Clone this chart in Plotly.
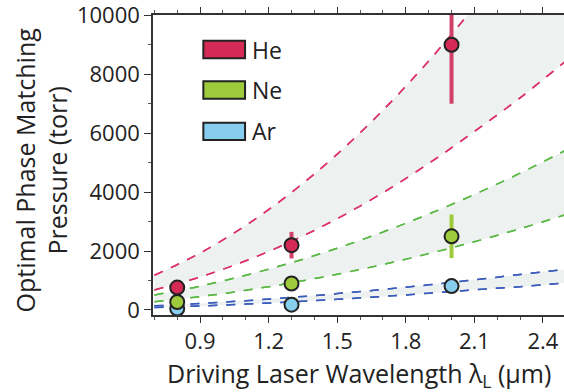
import plotly.graph_objects as go

# ---- data ----
gases = ["He", "Ne", "Ar"]
pt_x = [0.8, 1.3, 2.0]
he_y = [760, 2200, 9000]
he_err = [0, 450, 2000]
ne_y = [270, 900, 2500]
ne_err = [0, 0, 740]
ar_y = [50, 180, 810]

curve_x = [0.7, 0.9, 1.1, 1.3, 1.5, 1.7, 1.9, 2.1, 2.3, 2.5]
he_upper = [1180, 1930, 2870, 3990, 5290, 6780, 8450, 10300, 12350, 14600]
he_lower = [680, 1120, 1670, 2330, 3100, 3980, 4970, 6060, 7200, 8450]
ne_upper = [508, 811, 1178, 1607, 2096, 2646, 3254, 3920, 4643, 5422]
ne_lower = [281, 455, 669, 922, 1214, 1544, 1912, 2316, 2759, 3238]
ar_upper = [140, 221, 317, 429, 556, 698, 853, 1022, 1206, 1380]
ar_lower = [85, 137, 201, 276, 362, 459, 567, 685, 790, 920]

x_title = "Driving Laser Wavelength λ<sub>L</sub> (µm)"
y_title = "Optimal Phase Matching<br>Pressure (torr)"

fill_colors = {"He": "#d42a55", "Ne": "#9dcb3c", "Ar": "#87cdee"}
line_colors = {"He": "#dc3468", "Ne": "#5cb947", "Ar": "#3c5cbc"}
band_fill = "#edf1ef"

fig = go.Figure()

bands = [("He", he_lower, he_upper), ("Ne", ne_lower, ne_upper), ("Ar", ar_lower, ar_upper)]
for g, lo, hi in bands:
    fig.add_trace(go.Scatter(x=curve_x, y=lo, mode="lines", line=dict(color=line_colors[g], width=1.5, dash="dash", shape="spline"), showlegend=False, hoverinfo="skip"))
    fig.add_trace(go.Scatter(x=curve_x, y=hi, mode="lines", fill="tonexty", fillcolor=band_fill, line=dict(color=line_colors[g], width=1.5, dash="dash", shape="spline"), showlegend=False, hoverinfo="skip"))

for g, lo, hi in bands:
    for arr in (lo, hi):
        fig.add_trace(go.Scatter(x=curve_x, y=arr, mode="lines", line=dict(color=line_colors[g], width=1.5, dash="dash", shape="spline"), showlegend=False, hoverinfo="skip"))

marker_line = dict(color="#222222", width=2)
fig.add_trace(go.Scatter(x=pt_x, y=ar_y, mode="markers", marker=dict(size=14, color=fill_colors["Ar"], line=marker_line), showlegend=False))
fig.add_trace(go.Scatter(x=pt_x, y=ne_y, mode="markers", error_y=dict(type="data", array=ne_err, color="#9dcb3c", thickness=4, width=0), marker=dict(size=14, color=fill_colors["Ne"], line=marker_line), showlegend=False))
fig.add_trace(go.Scatter(x=pt_x, y=he_y, mode="markers", error_y=dict(type="data", array=he_err, color="#d0406a", thickness=4, width=0), marker=dict(size=14, color=fill_colors["He"], line=marker_line), showlegend=False))

# legend drawn manually
leg_y = [0.885, 0.75, 0.612]
for g, yc in zip(gases, leg_y):
    fig.add_shape(type="rect", xref="paper", yref="paper", x0=0.1225, x1=0.224, y0=yc - 0.029, y1=yc + 0.029,
                  fillcolor=fill_colors[g], line=dict(color="#222222", width=2))
    fig.add_annotation(xref="paper", yref="paper", x=0.235, y=yc, text=g, showarrow=False, xanchor="left", yanchor="middle",
                       font=dict(size=23, color="#222222"))

# axis titles as annotations
fig.add_annotation(xref="paper", yref="paper", x=(358.5 - 153) / 411, y=(315 - 374) / 300, text=x_title, showarrow=False,
                   xanchor="center", yanchor="middle", font=dict(size=25, color="#222222"))
fig.add_annotation(xref="paper", yref="paper", x=(41.5 - 153) / 411, y=(315 - 170) / 300, text=y_title, showarrow=False,
                   textangle=-90, xanchor="center", yanchor="middle", font=dict(size=25, color="#222222"))

font_family = "Open Sans, sans-serif"
fig.update_layout(
    width=564, height=392,
    margin=dict(l=153, r=0, t=15, b=77),
    paper_bgcolor="white", plot_bgcolor="white",
    font=dict(family=font_family, size=21, color="#222222"),
    xaxis=dict(range=[0.694, 2.492], tick0=0.9, dtick=0.3, tickformat=".1f", automargin=False,
               tickfont=dict(size=22), ticklabeloverflow="allow",
               showgrid=False, zeroline=False, showline=True, linecolor="#333333", linewidth=1.5,
               ticks="outside", ticklen=6, tickcolor="#333333", tickwidth=1.2, mirror="ticks",
               minor=dict(dtick=0.1, tick0=0.9, ticks="outside", ticklen=3, tickcolor="#555555", showgrid=False)),
    yaxis=dict(range=[-170, 10010], tick0=0, dtick=2000, tickformat="d", automargin=False,
               tickfont=dict(size=22), ticklabeloverflow="allow",
               showgrid=False, zeroline=False, showline=True, linecolor="#333333", linewidth=1.5,
               ticks="outside", ticklen=7, tickcolor="#333333", tickwidth=1.2,
               minor=dict(dtick=1000, ticks="outside", ticklen=3, tickcolor="#555555", showgrid=False)),
)

fig.write_html("out.html", config={"displayModeBar": False},
               post_script="document.body.style.margin='0';document.body.style.overflow='hidden';")
